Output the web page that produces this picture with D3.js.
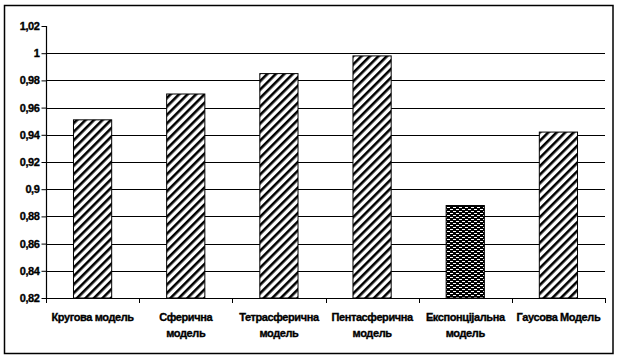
<!DOCTYPE html>
<html><head><meta charset="utf-8">
<script src="https://cdn.jsdelivr.net/npm/d3@7"></script>
<style>
html,body{margin:0;padding:0;background:#fff;}
text{font-family:"Liberation Sans",Arial,sans-serif;font-weight:bold;font-size:11px;fill:#000;stroke:#000;stroke-width:0.35px;letter-spacing:-0.4px;}
</style></head>
<body><svg id="c" width="619" height="361"></svg>
<script>
const categories = [["Кругова модель"],["Сферична","модель"],["Тетрасферична","модель"],["Пентасферична","модель"],["Експонціјальна","модель"],["Гаусова Модель"]];
const values = [0.951, 0.970, 0.985, 0.998, 0.888, 0.942];
const patterns = ["hatch","hatch","hatch","hatch","dots","hatch"];
const yTicks = [0.82,0.84,0.86,0.88,0.90,0.92,0.94,0.96,0.98,1.00,1.02];
const yTickLabels = ["0,82","0,84","0,86","0,88","0,9","0,92","0,94","0,96","0,98","1","1,02"];

const svg = d3.select("#c");
const defs = svg.append("defs");
const ph = defs.append("pattern").attr("id","hatch").attr("patternUnits","userSpaceOnUse")
  .attr("width",6).attr("height",6).attr("patternTransform","rotate(45)");
ph.append("rect").attr("width",6).attr("height",6).attr("fill","#fff");
ph.append("rect").attr("x",0).attr("width",2.6).attr("height",6).attr("fill","#000");
const pd = defs.append("pattern").attr("id","dots").attr("patternUnits","userSpaceOnUse")
  .attr("width",6).attr("height",4);
pd.append("rect").attr("width",6).attr("height",4).attr("fill","#000");
pd.append("rect").attr("x",0).attr("y",1).attr("width",3).attr("height",1).attr("fill","#fff");
pd.append("rect").attr("x",3).attr("y",3).attr("width",3).attr("height",1).attr("fill","#fff");

svg.append("rect").attr("x",4.5).attr("y",5.5).attr("width",608.5).attr("height",348)
  .attr("fill","none").attr("stroke","#000").attr("stroke-width",1.5);

const x0 = 46, x1 = 605, yTop = 26, yBot = 298;
const x = d3.scaleBand().domain(d3.range(categories.length)).range([x0,x1]).paddingInner(0).paddingOuter(0);
const y = d3.scaleLinear().domain([0.82,1.02]).range([yBot,yTop]);

// gridlines
svg.append("g").selectAll("line").data(yTicks.filter(v=>v>0.83 && v<1.01)).join("line")
  .attr("x1",x0).attr("x2",x1).attr("y1",d=>Math.round(y(d))+0.5).attr("y2",d=>Math.round(y(d))+0.5)
  .attr("stroke","#000").attr("stroke-width",1.2);

// bars
const bw = x.bandwidth()*0.41;
svg.append("g").selectAll("rect").data(values).join("rect")
  .attr("x",(d,i)=>x(i)+x.bandwidth()/2-bw/2).attr("width",bw)
  .attr("y",d=>y(d)).attr("height",d=>yBot-y(d))
  .attr("fill",(d,i)=>`url(#${patterns[i]})`).attr("stroke","#000").attr("stroke-width",1);

// y axis
const ya = d3.axisLeft(y).tickValues(yTicks).tickSize(5).tickPadding(2)
  .tickFormat((d,i)=>yTickLabels[i]);
const gy = svg.append("g").attr("transform",`translate(${x0+0.5},0)`).call(ya);
gy.select(".domain").attr("d",`M0,${yTop}V${yBot}`).attr("stroke","#000").attr("stroke-width",1.2);
gy.selectAll(".tick line").attr("stroke","#000");
gy.selectAll("text").attr("font-size",null).attr("font-family",null).style("font-size","11px");

// x axis
const gx = svg.append("g");
gx.append("line").attr("x1",x0).attr("x2",x1).attr("y1",yBot+0.5).attr("y2",yBot+0.5).attr("stroke","#000").attr("stroke-width",1.2);
const bounds = d3.range(categories.length+1).map(i=> i<categories.length ? x(i) : x1);
gx.selectAll("line.t").data(bounds).join("line").attr("class","t")
  .attr("x1",d=>Math.round(d)+0.5).attr("x2",d=>Math.round(d)+0.5).attr("y1",yBot).attr("y2",yBot+5).attr("stroke","#000");
const lab = gx.selectAll("text").data(categories).join("text")
  .attr("text-anchor","middle")
  .attr("transform",(d,i)=>`translate(${x(i)+x.bandwidth()/2},321)`);
lab.selectAll("tspan").data(d=>d).join("tspan").attr("x",0).attr("dy",(d,j)=>j===0?0:16).text(d=>d);
</script></body></html>
